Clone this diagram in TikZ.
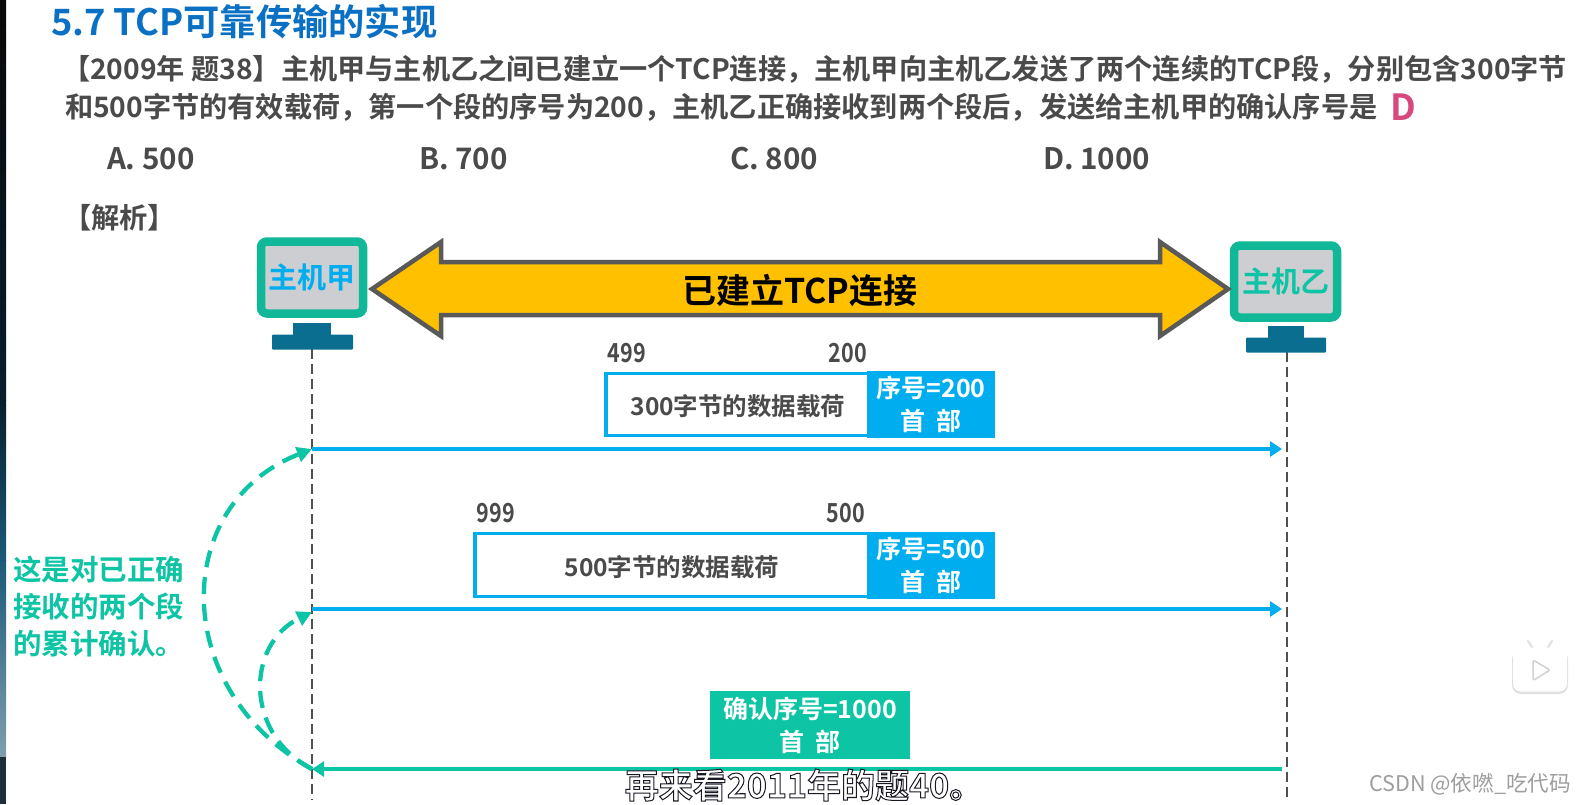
\documentclass[tikz,border=0pt]{standalone}
\usepackage{fontspec}
\setmainfont{Noto Sans CJK SC}[BoldFont={Noto Sans CJK SC Bold}]
\usetikzlibrary{arrows.meta,positioning}
\definecolor{txtgrey}{HTML}{4A4A4A}
\definecolor{titleblue}{HTML}{0A70C4}
\definecolor{skyb}{HTML}{00AEEF}
\definecolor{teal1}{HTML}{0DC4A4}
\definecolor{teal2}{HTML}{10B898}
\definecolor{stand}{HTML}{0A6E91}
\definecolor{scr}{HTML}{CDCED2}
\definecolor{gold}{HTML}{FFC000}
\definecolor{edge}{HTML}{595959}
\definecolor{pinkd}{HTML}{D6487E}
\definecolor{sa}{HTML}{0A0808}
\definecolor{sb}{HTML}{071E2C}
\definecolor{sc}{HTML}{1A5A78}
\definecolor{sd}{HTML}{7F9FAE}
\definecolor{se}{HTML}{1E2E3A}
\newcommand{\fs}[1]{\fontsize{#1pt}{#1pt}\selectfont}
\newcommand{\outlined}[1]{\special{pdf:code 2 Tr 1.0 w 0.1 0.1 0.15 RG 1 1 1 rg}#1\special{pdf:code 0 Tr 0 0 0 RG 0 0 0 rg}}
\newcommand{\narrow}[1]{\scalebox{0.86}[1.05]{#1}}
\newcommand{\lowered}[1]{\raisebox{-11pt}[0pt][0pt]{#1}}
\tikzset{
 lbl/.style={inner sep=0pt,outer sep=0pt,font=\bfseries\fs{#1},text=txtgrey},
 lineleft/.style={lbl=#1,anchor=west},
 payload/.style={draw=skyb,line width=3.5pt,fill=white,inner sep=0pt,font=\bfseries\fs{24.5},text=txtgrey},
 hdr/.style={fill=skyb,inner sep=0pt,minimum width=128pt,minimum height=67pt,align=center,text=white,font=\bfseries\fs{25}},
 ackhdr/.style={fill=teal1,inner sep=0pt,minimum width=200pt,minimum height=68pt,align=center,text=white,font=\bfseries\fs{25}},
 screen/.style={draw=teal2,line width=8.5pt,fill=scr,rounded corners=6pt,inner sep=0pt,font=\bfseries\fs{29}},
 standpart/.style={fill=stand,inner sep=0pt},
 life/.style={dashed,dash pattern=on 10pt off 5pt,line width=1.3pt,draw=edge!90!black},
 msg/.style={line width=4.5pt,-{Triangle[length=12pt,width=15pt]}},
 curve/.style={draw=teal1,line width=4.3pt,dash pattern=on 17pt off 10pt,-{Triangle[length=15pt,width=15pt]}},
}
\begin{document}
\begin{tikzpicture}[x=1pt,y=-1pt]
\useasboundingbox (0,0) rectangle (1586,804);
\fill[white] (0,0) rectangle (1586,804);
\fill[top color=sa,bottom color=sb] (0,0) rectangle (6,400);
\fill[top color=sb,bottom color=sc] (0,400) rectangle (6,560);
\fill[top color=sc,bottom color=sd] (0,560) rectangle (6,757);
\fill[se] (0,757) rectangle (6,804);

% header text
\node[lineleft=36.3,text=titleblue] (title) at (51,22) {5.7 TCP可靠传输的实现};
\node[lineleft=28.2] (q1) at (62,69) {【2009年 题38】主机甲与主机乙之间已建立一个TCP连接，主机甲向主机乙发送了两个连续的TCP段，分别包含300字节};
\node[lineleft=28.2] (q2) at (65,107) {和500字节的有效载荷，第一个段的序号为200，主机乙正确接收到两个段后，发送给主机甲的确认序号是};
\node[lbl=36,text=pinkd] (ans) at (1403,107) {D};
\node[lineleft=29.6] (oa) at (107,159) {A. 500};
\node[lineleft=29.6] (ob) at (419,159) {B. 700};
\node[lineleft=29.6] (oc) at (730,159) {C. 800};
\node[lineleft=29.6] (od) at (1043,159) {D. 1000};
\node[lineleft=28.3] (jx) at (63,218) {【解析】};

% lifelines
\coordinate (a0) at (312,349);
\coordinate (a1) at (312,800);
\coordinate (b0) at (1287,352);
\coordinate (b1) at (1287,800);
\draw[life] (a0) -- (a1);
\draw[life] (b0) -- (b1);

% hosts
\node[standpart,minimum width=38pt,minimum height=12pt] (an) at (312,329) {};
\node[standpart,minimum width=81pt,minimum height=15pt,rounded corners=1pt] (ab) at (312.5,342) {};
\node[screen,minimum width=102pt,minimum height=72pt,text=skyb] (hosta) at (312,277.5) {主机甲};
\node[standpart,minimum width=36pt,minimum height=12pt] (bn) at (1286,332) {};
\node[standpart,minimum width=80pt,minimum height=15pt,rounded corners=1pt] (bb) at (1286,345) {};
\node[screen,minimum width=103pt,minimum height=72pt,text=teal1] (hostb) at (1285.5,281.5) {主机乙};

% connection arrow
\draw[draw=edge,line width=4.5pt,fill=gold,line join=miter]
 (372,289) -- (441,242) -- (441,262) -- (1160,262) -- (1160,242) -- (1228,289)
 -- (1160,336) -- (1160,315) -- (441,315) -- (441,336) -- cycle;
\node[lbl=34,text=black] (conn) at (800,291) {已建立TCP连接};

% segment 1
\node[lbl=25] (n499) at (627,353) {\narrow{499}};
\node[lbl=25] (n200) at (848,353) {\narrow{200}};
\node[payload,minimum width=264pt,minimum height=62pt] (p1) at (738,404.5) {\lowered{300字节的数据载荷}};
\node[hdr] (h1) at (931,404.5) {\raisebox{2pt}{序号=200}\\[6pt]首\hspace{.45em}部};

% segment 2
\node[lbl=25] (n999) at (496,513) {\narrow{999}};
\node[lbl=25] (n500) at (846,513) {\narrow{500}};
\node[payload,minimum width=394pt,minimum height=63pt] (p2) at (672,565) {\lowered{500字节的数据载荷}};
\node[hdr] (h2) at (931,565) {\raisebox{2pt}{序号=500}\\[6pt]首\hspace{.45em}部};

% ack
\node[ackhdr] (h3) at (810,725) {\raisebox{2pt}{确认序号=1000}\\[6pt]首\hspace{.45em}部};

% messages
\coordinate (m1a) at (312,449); \coordinate (m1b) at (1282,449);
\coordinate (m2a) at (312,609); \coordinate (m2b) at (1282,609);
\coordinate (m3a) at (1282,769); \coordinate (m3b) at (312,769);
\draw[msg,draw=skyb] (m1a) -- (m1b);
\draw[msg,draw=skyb] (m2a) -- (m2b);
\draw[msg,draw=teal1] (m3a) -- (m3b);

% dashed curves
\draw[curve] (m3b) .. controls (170,690) and (170,505) .. (m1a);
\coordinate (m2t) at (312,612);
\draw[curve] (m3b) .. controls (245,735) and (245,645) .. (m2t);

% side note
\node[lbl=28.5,text=teal1,align=left,anchor=west] (note) at (13,607) {这是对已正确\\[8.5pt]接收的两个段\\[8.5pt]的累计确认。};

% subtitle
\node[lbl=34,text=white] (sub) at (804,785) {\outlined{再来看2011年的题40。}};

% player icon
\fill[black!12,rounded corners=9pt] (1512,650) rectangle (1568,694);
\draw[draw=black!12,line width=2pt,line cap=round] (1533,649) -- (1528,641);
\draw[draw=black!12,line width=2pt,line cap=round] (1547,649) -- (1552,641);
\node[fill=white,rounded corners=8pt,inner sep=0pt,minimum width=54pt,minimum height=44pt] (play) at (1540,669.5) {};
\draw[draw=black!18,line width=1.5pt,rounded corners=2pt] (1533,660) -- (1550,670) -- (1533,680.5) -- cycle;

% watermark
\node[inner sep=0pt,font=\fs{21.6},text=black!38] (wm) at (1470,784) {CSDN @依嘫\_吃代码};
\end{tikzpicture}
\end{document}
